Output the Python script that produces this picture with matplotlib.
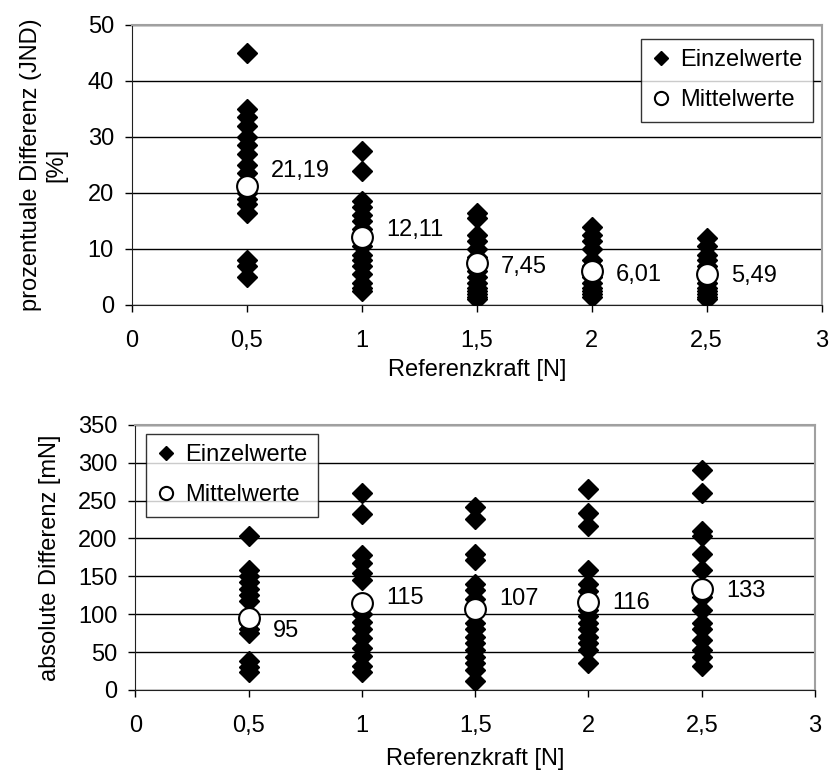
import matplotlib
matplotlib.use('Agg')
import matplotlib.pyplot as plt

plt.rcParams['font.family'] = ['Liberation Sans', 'DejaVu Sans']

# Referenzkraft-Stufen [N]
ref_kraft = [0.5, 1.0, 1.5, 2.0, 2.5]

# prozentuale Differenz (JND) [%] - Einzelwerte je Stufe
jnd_einzel = [
    [45, 35, 33.5, 32, 30, 28.5, 27, 25, 23.5, 22, 20, 19, 18, 16.5, 8, 7, 5],
    [27.5, 24, 18.5, 17.5, 16, 15, 13.5, 12, 10.5, 9, 8, 7, 5.5, 4, 3, 2.5],
    [16.5, 15.5, 12.5, 11.5, 10, 8.5, 7, 6, 5, 4, 3, 2.5, 2, 1.5, 1],
    [14, 12.5, 11.5, 10, 8, 7, 6, 5, 4, 3, 2.5, 2, 1.5],
    [12, 10.5, 9, 8, 7, 6, 5, 4, 3, 2.5, 2, 1.5, 1],
]
jnd_mittel = [21.19, 12.11, 7.45, 6.01, 5.49]
jnd_text = ['21,19', '12,11', '7,45', '6,01', '5,49']

# absolute Differenz [mN] - Einzelwerte je Stufe
abs_einzel = [
    [203, 158, 150, 142, 133, 125, 117, 88, 80, 75, 38, 30, 23],
    [260, 232, 178, 168, 155, 145, 100, 90, 80, 68, 55, 45, 32, 23],
    [242, 226, 180, 172, 140, 132, 120, 88, 80, 70, 62, 53, 44, 35, 26, 12],
    [265, 233, 216, 158, 140, 130, 105, 97, 88, 80, 70, 62, 53, 35],
    [290, 260, 210, 203, 180, 158, 123, 105, 88, 80, 66, 53, 44, 31],
]
abs_mittel = [95, 115, 107, 116, 133]
abs_text = ['95', '115', '107', '116', '133']

x_ticks = [0, 0.5, 1, 1.5, 2, 2.5, 3]
x_ticklabels = ['0', '0,5', '1', '1,5', '2', '2,5', '3']

FS = 17


def draw_panel(ax, einzel, mittel, texte, dy_px, ymax, ystep, ylabel,
               ylabel_x, xlabel_y, leg_loc, leg_anchor):
    for xv, werte in zip(ref_kraft, einzel):
        ax.plot([xv] * len(werte), werte, linestyle='none', marker='D',
                ms=10, color='black', zorder=3)
    ax.plot(ref_kraft, mittel, linestyle='none', marker='o', ms=15,
            mfc='white', mec='black', mew=1.5, zorder=4)
    # Beschriftung der Mittelwerte rechts neben dem Kreis
    for xv, yv, txt, dy in zip(ref_kraft, mittel, texte, dy_px):
        ax.annotate(txt, (xv, yv), xytext=(24, dy), textcoords='offset pixels',
                    ha='left', va='center', fontsize=FS, zorder=5)

    ax.set_xlim(0, 3)
    ax.set_ylim(0, ymax)
    ax.set_xticks(x_ticks)
    ax.set_xticklabels(x_ticklabels)
    ax.set_yticks(range(0, ymax + 1, ystep))
    ax.tick_params(labelsize=FS, direction='out', length=5, width=1)
    ax.tick_params(axis='x', pad=13)
    ax.tick_params(axis='y', pad=8)
    ax.grid(axis='y', color='black', linewidth=1)
    ax.set_axisbelow(True)
    for s in ['top', 'right']:
        ax.spines[s].set_color('#a0a0a0')
        ax.spines[s].set_linewidth(1.5)
    for s in ['left', 'bottom']:
        ax.spines[s].set_color('#202020')
    ax.set_xlabel('Referenzkraft [N]', fontsize=FS)
    ax.xaxis.set_label_coords(0.5, xlabel_y)
    ax.set_ylabel(ylabel, fontsize=FS)
    ax.yaxis.set_label_coords(ylabel_x, 0.5)

    h1, = ax.plot([], [], linestyle='none', marker='D', ms=7.5, color='black')
    h2, = ax.plot([], [], linestyle='none', marker='o', ms=9.5,
                  mfc='white', mec='black', mew=1.5)
    leg = ax.legend([h1, h2], ['Einzelwerte', 'Mittelwerte'], loc=leg_loc,
                    bbox_to_anchor=leg_anchor, fontsize=FS, frameon=True,
                    fancybox=False, handlelength=0.8, handletextpad=0.4,
                    labelspacing=0.75, borderpad=0.45, borderaxespad=0)
    leg.get_frame().set_edgecolor('black')
    leg.get_frame().set_linewidth(1)


fig = plt.figure(figsize=(8.3, 7.76), dpi=100)
ax1 = fig.add_axes([0.159, 0.607, 0.831, 0.361])
ax2 = fig.add_axes([0.163, 0.111, 0.819, 0.3415])

draw_panel(ax1, jnd_einzel, jnd_mittel, jnd_text, [15, 7, -4, -4, -2],
           50, 10, 'prozentuale Differenz (JND)\n[%]', -0.093, -0.193,
           'upper right', (0.987, 0.95))
draw_panel(ax2, abs_einzel, abs_mittel, abs_text, [-13, 5, 10, -1, -2],
           350, 50, 'absolute Differenz [mN]', -0.110, -0.219,
           'upper left', (0.016, 0.966))

fig.savefig('out.png', dpi=100)
